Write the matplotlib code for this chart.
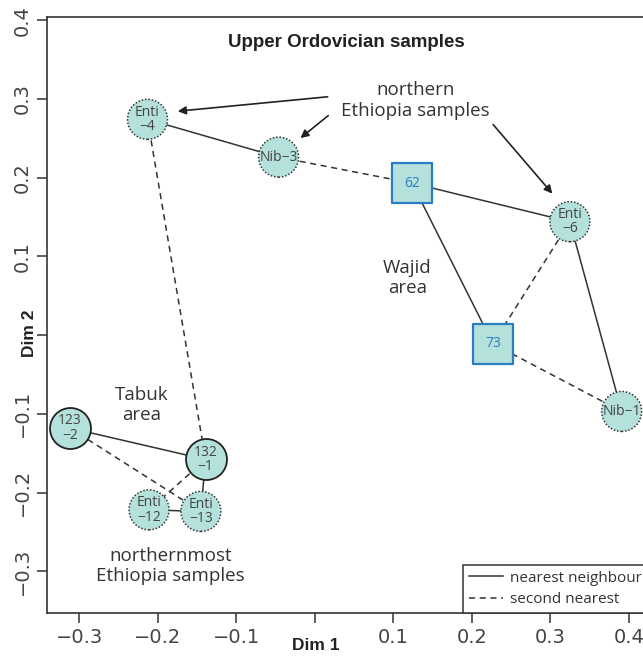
import matplotlib
matplotlib.use("Agg")
import matplotlib.pyplot as plt
from matplotlib.lines import Line2D

# ---- data ----
names = ["Enti\n\u22124", "Nib\u22123", "62", "Enti\n\u22126", "73", "Nib\u22121",
         "123\n\u22122", "132\n\u22121", "Enti\n\u221212", "Enti\n\u221213"]
xs = [-0.213, -0.046, 0.124, 0.325, 0.227, 0.391, -0.312, -0.139, -0.211, -0.145]
ys = [0.274, 0.226, 0.193, 0.144, -0.011, -0.097, -0.118, -0.158, -0.222, -0.224]
kinds = ["eth", "eth", "wajid", "eth", "wajid", "eth", "tabuk", "tabuk", "eth", "eth"]

nearest = [(0, 1), (2, 3), (2, 4), (3, 5), (6, 7), (7, 9), (8, 9)]
second = [(1, 2), (0, 7), (3, 4), (4, 5), (6, 9), (7, 8)]

xticks = [-0.3, -0.2, -0.1, 0.0, 0.1, 0.2, 0.3, 0.4]
yticks = [-0.3, -0.2, -0.1, 0.0, 0.1, 0.2, 0.3, 0.4]

fill = "#b5e1dc"
blue = "#2c7cc4"
dark = "#333333"

plt.rcParams['font.family'] = ['Open Sans', 'DejaVu Sans']
boldfont = ['Liberation Sans', 'DejaVu Sans']
tickfont = ['DejaVu Sans']

fig = plt.figure(figsize=(6.43, 6.57), dpi=100)
W, H = 643, 657
ax = fig.add_axes([47 / W, (H - 613) / H, 621 / W, 596 / H])
ax.set_xlim(-0.341, 0.45)
ax.set_ylim(-0.353, 0.404)

# connections
for a, b in nearest:
    ax.plot([xs[a], xs[b]], [ys[a], ys[b]], color=dark, lw=1.1, zorder=1)
for a, b in second:
    ax.plot([xs[a], xs[b]], [ys[a], ys[b]], color=dark, lw=1.1, ls=(0, (4, 3)), zorder=1)

# nodes
s = 830
for i in range(len(names)):
    if kinds[i] == "wajid":
        ax.scatter([xs[i]], [ys[i]], s=s, marker="s", facecolor=fill, edgecolor=blue,
                   linewidths=1.6, zorder=3)
        ax.text(xs[i], ys[i], names[i], ha="center", va="center", fontsize=10,
                color=blue, zorder=4)
    elif kinds[i] == "tabuk":
        ax.scatter([xs[i]], [ys[i]], s=s * 1.05, marker="o", facecolor=fill, edgecolor="#222222",
                   linewidths=1.3, zorder=3)
        ax.text(xs[i], ys[i], names[i], ha="center", va="center", fontsize=10,
                color="#444444", zorder=4, linespacing=0.95)
    else:
        ax.scatter([xs[i]], [ys[i]], s=s, marker="o", facecolor=fill, edgecolor="#333333",
                   linewidths=1.1, linestyles=(0, (1, 1.2)), zorder=3)
        ax.text(xs[i], ys[i], names[i], ha="center", va="center", fontsize=10,
                color="#444444", zorder=4, linespacing=0.95)

# annotations
ax.text(0.04, 0.372, "Upper Ordovician samples", ha="center", va="center",
        fontsize=13.5, fontweight="bold", color="#222222", family=boldfont)
ax.text(0.128, 0.298, "northern\nEthiopia samples", ha="center", va="center",
        fontsize=13.5, color=dark, linespacing=1.15)
ax.text(0.118, 0.072, "Wajid\narea", ha="center", va="center", fontsize=13.5,
        color=dark, linespacing=1.15)
ax.text(-0.22, -0.089, "Tabuk\narea", ha="center", va="center", fontsize=13.5,
        color=dark, linespacing=1.15)
ax.text(-0.184, -0.293, "northernmost\nEthiopia samples", ha="center", va="center",
        fontsize=13.5, color=dark, linespacing=1.15)

arrow_kw = dict(arrowstyle="-|>", color="#222222", lw=1.2, mutation_scale=12)
ax.annotate("", xy=(-0.178, 0.284), xytext=(0.02, 0.303), arrowprops=arrow_kw, zorder=5)
ax.annotate("", xy=(-0.021, 0.248), xytext=(0.02, 0.281), arrowprops=arrow_kw, zorder=5)
ax.annotate("", xy=(0.305, 0.177), xytext=(0.225, 0.27), arrowprops=arrow_kw, zorder=5)

# axes styling
for sp in ax.spines.values():
    sp.set_color("#333333")
    sp.set_linewidth(1.2)
ax.set_xticks(xticks)
ax.set_yticks(yticks)
ax.set_xticklabels(["" if abs(v) < 1e-9 else f"{v:.1f}".replace("-", "\u2212") for v in xticks],
                   family=tickfont)
ax.set_yticklabels(["" if abs(v) < 1e-9 else f"{v:.1f}".replace("-", "\u2212") for v in yticks],
                   rotation=90, va="center", family=tickfont)
ax.tick_params(axis="both", direction="out", length=7, width=1.1, color="#333333",
               labelsize=14, labelcolor="#444444", pad=4)

fig.text(316 / W, 1 - 645 / H, "Dim 1", ha="center", va="center", fontsize=12.5,
         fontweight="bold", color="#222222", family=boldfont)
fig.text(30 / W, 1 - 333 / H, "Dim 2", ha="center", va="center", fontsize=12.5,
         fontweight="bold", color="#222222", rotation=90, family=boldfont)

handles = [Line2D([], [], color=dark, lw=1.1),
           Line2D([], [], color=dark, lw=1.1, ls=(0, (4, 3)))]
leg = ax.legend(handles, ["nearest neighbour", "second nearest"], loc="lower left",
                bbox_to_anchor=(463 / W, 44 / H), bbox_transform=fig.transFigure,
                borderaxespad=0, fancybox=False, framealpha=1, edgecolor="#333333",
                fontsize=11, handlelength=2.2, handletextpad=0.5,
                labelspacing=0.4, borderpad=0.4)
leg.get_frame().set_linewidth(1.1)
for t in leg.get_texts():
    t.set_color("#333333")

fig.savefig("out.png", dpi=100)
